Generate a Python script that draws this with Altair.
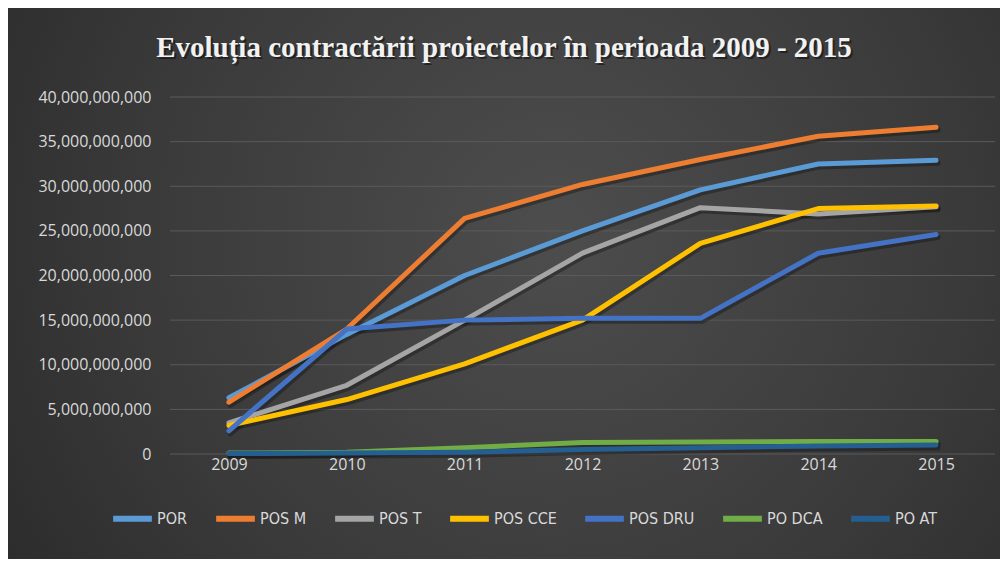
import altair as alt
import pandas as pd

title_text = "Evoluția contractării proiectelor în perioada 2009 - 2015"
years = ["2009", "2010", "2011", "2012", "2013", "2014", "2015"]
series = ["POR", "POS M", "POS T", "POS CCE", "POS DRU", "PO DCA", "PO AT"]
colors = ["#5B9BD5", "#ED7D31", "#A5A5A5", "#FFC000", "#4472C4", "#70AD47", "#255E91"]
y_ticks = [0, 5e9, 10e9, 15e9, 20e9, 25e9, 30e9, 35e9, 40e9]

por = [6.3e9, 13.4e9, 20.0e9, 25.0e9, 29.6e9, 32.5e9, 32.9e9]
pos_m = [5.8e9, 14.0e9, 26.4e9, 30.2e9, 33.0e9, 35.6e9, 36.6e9]
pos_t = [3.5e9, 7.7e9, 15.0e9, 22.5e9, 27.6e9, 26.9e9, 27.7e9]
pos_cce = [3.2e9, 6.1e9, 10.1e9, 15.0e9, 23.6e9, 27.5e9, 27.8e9]
pos_dru = [2.6e9, 14.0e9, 15.0e9, 15.2e9, 15.2e9, 22.5e9, 24.6e9]
po_dca = [0.1e9, 0.2e9, 0.7e9, 1.3e9, 1.35e9, 1.4e9, 1.4e9]
po_at = [0.05e9, 0.1e9, 0.2e9, 0.5e9, 0.7e9, 0.9e9, 1.0e9]

values = [por, pos_m, pos_t, pos_cce, pos_dru, po_dca, po_at]
rows = []
for s, vals in zip(series, values):
    for y, v in zip(years, vals):
        rows.append({"An": y, "Program": s, "Valoare": v})
df = pd.DataFrame(rows)
grid_df = pd.DataFrame({"Valoare": y_ticks})
title_df = pd.DataFrame({"t": [title_text]})

y_scale = alt.Scale(domain=[0, 40e9], nice=False)

x_enc = alt.X("An:N", title=None,
              scale=alt.Scale(type="point", padding=0.5),
              axis=alt.Axis(labelAngle=0, labelColor="#d9d9d9", labelFontSize=16,
                            labelFont="Open Sans", domain=False, ticks=False,
                            grid=False, labelPadding=2, zindex=1))
y_enc = alt.Y("Valoare:Q", title=None, scale=y_scale,
              axis=alt.Axis(values=y_ticks, format=",.0f",
                            labelColor="#d9d9d9", labelFontSize=16, labelFont="Open Sans",
                            domain=False, ticks=False, grid=False,
                            labelPadding=19, zindex=1))
color_enc = alt.Color("Program:N", sort=series,
                      scale=alt.Scale(domain=series, range=colors),
                      legend=alt.Legend(title=None, orient="none", direction="horizontal",
                                        legendX=-60, legendY=399, symbolType="stroke",
                                        symbolSize=1500, symbolStrokeWidth=6,
                                        labelColor="#d9d9d9", labelFontSize=16,
                                        labelFont="Liberation Sans Narrow, DejaVu Sans Condensed, Roboto",
                                        columnPadding=16, labelOffset=2, zindex=1))

bg = alt.Chart(df).mark_rect(
    fill=alt.Gradient(gradient="radial", x1=0.55, y1=0.45, r1=0, x2=0.55, y2=0.45, r2=0.75,
                      stops=[alt.GradientStop(color="#4d4d4d", offset=0),
                             alt.GradientStop(color="#3a3a3a", offset=0.55),
                             alt.GradientStop(color="#262626", offset=1)]),
    clip=False).encode(
    x=alt.value(-162), x2=alt.value(830), y=alt.value(-89), y2=alt.value(462))

grid = alt.Chart(grid_df).mark_rule(color="#5a5a5a", strokeWidth=1).encode(
    y=alt.Y("Valoare:Q", scale=y_scale), x=alt.value(0), x2=alt.value(825))

title_shadow = alt.Chart(title_df).mark_text(
    font="Liberation Serif", fontWeight="bold", fontSize=29, color="#111111", opacity=0.6,
    align="center", baseline="alphabetic", clip=False).encode(
    text="t:N", x=alt.value(336), y=alt.value(-38))
title = alt.Chart(title_df).mark_text(
    font="Liberation Serif", fontWeight="bold", fontSize=29, color="#f2f2f2",
    align="center", baseline="alphabetic", clip=False).encode(
    text="t:N", x=alt.value(334), y=alt.value(-40))

shadow = alt.Chart(df).mark_line(strokeWidth=6, strokeCap="round", strokeJoin="round",
                                 color="#111111", opacity=0.4, xOffset=1.5, yOffset=2.5).encode(
    x=x_enc, y=y_enc, detail="Program:N",
    order=alt.Order("An:N"))

lines = alt.Chart(df).mark_line(strokeWidth=5, strokeCap="round", strokeJoin="round").encode(
    x=x_enc, y=y_enc, color=color_enc, order=alt.Order("An:N"))

chart = alt.layer(bg, grid, title_shadow, title, shadow, lines).properties(
    width=825, height=357,
    padding={"left": 162, "top": 89, "right": 5, "bottom": 105},
    autosize=alt.AutoSizeParams(type="none"),
    background="#333333",
).configure_view(stroke=None)

chart.save("out.html", embed_options={"renderer": "svg", "actions": False})
